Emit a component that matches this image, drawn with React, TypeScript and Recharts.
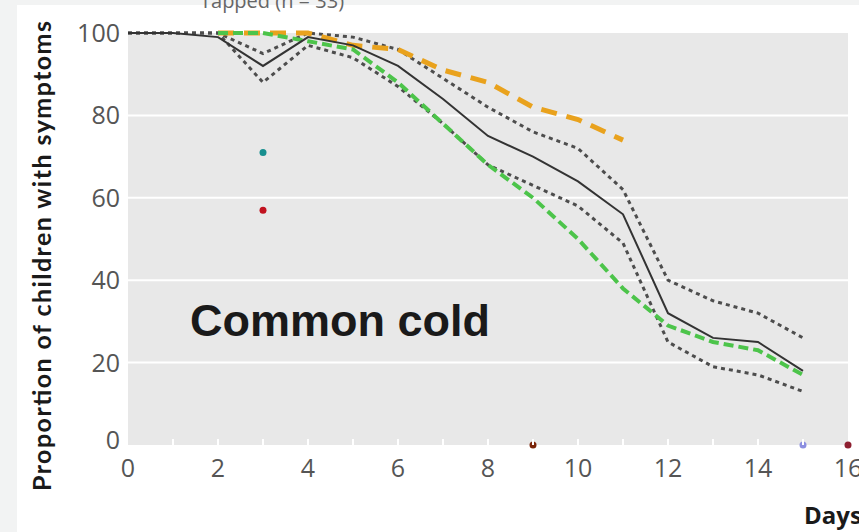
import React from "react";
import {
  ComposedChart,
  Line,
  Scatter,
  XAxis,
  YAxis,
  CartesianGrid,
} from "recharts";

// days 0..16
const DAYS = [0, 1, 2, 3, 4, 5, 6, 7, 8, 9, 10, 11, 12, 13, 14, 15, 16];
const MEAN = [100, 100, 99, 92, 99, 97, 92, 84, 75, 70, 64, 56, 32, 26, 25, 18];
const UPPER = [100, 100, 100, 95, 100, 99, 96, 89, 82, 76, 72, 62, 40, 35, 32, 26];
const LOWER = [100, 100, 100, 88, 97, 94, 87, 78, 68, 63, 58, 49, 25, 19, 17, 13];
const GREEN = [null, null, 100, 100, 98, 96, 88, 78, 68, 60, 50, 38, 29, 25, 23, 17];
const ORANGE = [null, null, 100, 100, 100, 97, 96, 91, 88, 82, 79, 74];

const X_TICKS = [0, 1, 2, 3, 4, 5, 6, 7, 8, 9, 10, 11, 12, 13, 14, 15, 16];
const Y_TICKS = [0, 20, 40, 60, 80, 100];
const GRID_Y = [20, 40, 60, 80];

// single observations
const DOTS = [
  { day: 3, v: 71, color: "#178f8f" },
  { day: 3, v: 57, color: "#c1121f" },
  { day: 9, v: 0, color: "#7a2408" },
  { day: 15, v: 0, color: "#8c8fe0" },
  { day: 16, v: 0, color: "#8e1f30" },
];

const data = DAYS.map((d, i) => ({
  day: d,
  mean: MEAN[i],
  upper: UPPER[i],
  lower: LOWER[i],
  green: GREEN[i] ?? undefined,
  orange: ORANGE[i] ?? undefined,
}));

const TICK_FONT = "'Open Sans', sans-serif";

const XTick = (props: any) => {
  const { x, y, payload } = props;
  const v = payload.value;
  return (
    <g>
      {v > 0 && v < 16 && (
        <line x1={x} x2={x} y1={y - 6} y2={y} stroke="#ffffff" strokeWidth={2} />
      )}
      {v % 2 === 0 && (
        <text
          x={x}
          y={y + 32}
          textAnchor="middle"
          fontSize={25}
          fill="#555555"
          fontFamily={TICK_FONT}
        >
          {v}
        </text>
      )}
    </g>
  );
};

const YTick = (props: any) => {
  const { x, y, payload } = props;
  return (
    <text
      x={x}
      y={y + (payload.value === 0 ? 4 : 9)}
      textAnchor="end"
      fontSize={25}
      fill="#555555"
      fontFamily={TICK_FONT}
    >
      {payload.value}
    </text>
  );
};

export default function App() {
  return (
    <div
      style={{
        position: "absolute",
        left: 0,
        top: 0,
        width: 859,
        height: 532,
        background: "#f2f3f3",
        overflow: "hidden",
      }}
    >
      <div
        style={{
          position: "absolute",
          left: 17,
          top: 5,
          right: 0,
          bottom: 0,
          background: "#ffffff",
        }}
      />
      <div style={{ position: "absolute", left: 0, top: 0 }}>
        <ComposedChart
          width={859}
          height={532}
          data={data}
          margin={{ top: 33, right: 11, left: 68, bottom: 47 }}
        >
          <CartesianGrid
            vertical={false}
            horizontalValues={GRID_Y}
            stroke="#ffffff"
            strokeWidth={2}
            fill="#e8e8e8"
            fillOpacity={1}
          />
          <XAxis
            dataKey="day"
            type="number"
            domain={[0, 16]}
            ticks={X_TICKS}
            interval={0}
            height={40}
            axisLine={false}
            tickLine={false}
            tickSize={0}
            tickMargin={0}
            tick={<XTick />}
          />
          <YAxis
            type="number"
            domain={[0, 100]}
            ticks={Y_TICKS}
            width={60}
            axisLine={false}
            tickLine={false}
            tickSize={0}
            tickMargin={8}
            tick={<YTick />}
          />
          <Line
            dataKey="upper"
            stroke="#4d4d4d"
            strokeWidth={3}
            strokeDasharray="4 4"
            dot={false}
            isAnimationActive={false}
          />
          <Line
            dataKey="lower"
            stroke="#4d4d4d"
            strokeWidth={3}
            strokeDasharray="4 4"
            dot={false}
            isAnimationActive={false}
          />
          <Line
            dataKey="orange"
            stroke="#e9a21d"
            strokeWidth={5}
            strokeDasharray="16 10"
            dot={false}
            isAnimationActive={false}
          />
          <Line
            dataKey="green"
            stroke="#4cc44a"
            strokeWidth={4}
            strokeDasharray="10 5"
            dot={false}
            isAnimationActive={false}
          />
          <Line
            dataKey="mean"
            stroke="#333333"
            strokeWidth={2}
            dot={false}
            isAnimationActive={false}
          />
          {DOTS.map((p, i) => (
            <Scatter
              key={i}
              data={[p]}
              dataKey="v"
              fill={p.color}
              shape={(s: any) => <circle cx={s.cx} cy={s.cy} r={3.5} fill={p.color} />}
              isAnimationActive={false}
            />
          ))}
          <text
            x={190}
            y={336}
            fontSize={45}
            fontWeight="bold"
            fill="#1a1a1a"
            fontFamily="'Liberation Sans', Arial, sans-serif"
          >
            Common cold
          </text>
          <text
            x={41}
            y={256}
            transform="rotate(-90 41 256)"
            textAnchor="middle"
            dominantBaseline="central"
            fontSize={25}
            fontWeight="bold"
            fill="#1a1a1a"
            fontFamily="Lato, sans-serif"
            textLength={470}
            lengthAdjust="spacing"
          >
            Proportion of children with symptoms
          </text>
          <text
            x={804}
            y={524}
            fontSize={24}
            fontWeight="bold"
            fill="#1a1a1a"
            fontFamily="'Open Sans', sans-serif"
          >
            Days
          </text>
          <text
            x={200}
            y={8}
            fontSize={20}
            fill="#666666"
            fontFamily={TICK_FONT}
          >
            Tapped (n = 33)
          </text>
        </ComposedChart>
      </div>
    </div>
  );
}
